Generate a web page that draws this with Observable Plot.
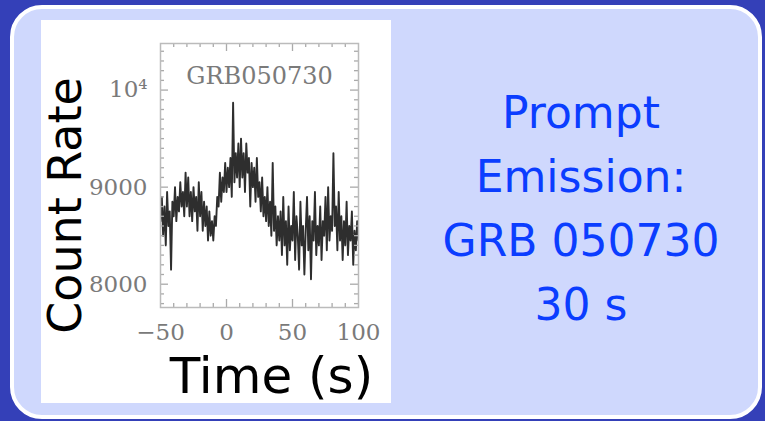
<!DOCTYPE html>
<html><head><meta charset="utf-8">
<script src="https://cdn.jsdelivr.net/npm/d3@7"></script>
<script src="https://cdn.jsdelivr.net/npm/@observablehq/plot@0.6"></script>
<style>
html,body{margin:0;padding:0;}
body{width:765px;height:421px;overflow:hidden;background:#3440b8;position:relative;}
#box{position:absolute;left:10px;top:5px;width:752px;height:414px;box-sizing:border-box;border:4px solid #fff;border-radius:32px;background:#cfd8fd;}
#panel{position:absolute;left:41px;top:20px;width:350px;height:383px;background:#fff;}
#panel svg{overflow:visible;}
#blurb{position:absolute;left:400px;top:81px;width:362px;text-align:center;font-family:"DejaVu Sans";font-size:44px;line-height:64px;color:#0b3dff;}
</style></head>
<body>
<div id="box"></div>
<div id="panel"></div>
<div id="blurb"><div>Prompt</div><div>Emission:</div><div>GRB 050730</div><div>30 s</div></div>
<script>
// ---- data ----
const binStart = -50;          // first bin time (s)
const binWidth = 1;            // bin width (s)
const countRate = [
  8650, 8900, 8500, 8800, 8400, 8950, 8600, 8750, 8150, 8850,
  8700, 9000, 8650, 8900, 8750, 9050, 8800, 8950, 8700, 9150,
  8800, 9100, 8700, 8950, 8650, 9000, 8750, 8900, 8550, 9050,
  8700, 8950, 8550, 8850, 8600, 8800, 8450, 8750, 8500, 8650,
  8450, 8700, 8600, 8900, 8800, 9150, 8850, 9100, 8950, 9250,
  8950, 9200, 9000, 9300, 8900, 9870, 9050, 9350, 9100, 9450,
  9000, 9500, 9100, 9350, 8950, 9450, 9150, 9300, 8800, 9250,
  9000, 9200, 8850, 9300, 8900, 9050, 8750, 9100, 8700, 8900,
  8650, 9000, 8600, 8850, 8500, 9250, 8550, 8800, 8400, 8700,
  8450, 8750, 8300, 8900, 8400, 8650, 8200, 8800, 8350, 8600,
  8450, 8950, 8250, 8700, 8500, 8150, 8850, 8400, 8600, 8100,
  8550, 8900, 8350, 8700, 8050, 8650, 8450, 8950, 8300, 8600,
  8400, 8800, 8250, 8650, 8500, 8900, 8350, 9000, 8450, 8700,
  8550, 9350, 8600, 8800, 8350, 8950, 8450, 8700, 8250, 8650,
  8400, 8850, 8300, 8600, 8450, 8750, 8200, 8550, 8350, 8650, 8450
];
const xMajor = [-50, 0, 50, 100];
const xMinor = [-40, -30, -20, -10, 10, 20, 30, 40, 60, 70, 80, 90];
const yMajor = [8000, 9000, 10000];
const yMinor = [7800, 7900, 8100, 8200, 8300, 8400, 8500, 8600, 8700, 8800, 8900,
  9100, 9200, 9300, 9400, 9500, 9600, 9700, 9800, 9900, 10100, 10200, 10300, 10400];
const xDomain = [-50, 100];
const yDomain = [7760, 10480];
const title = "GRB050730";
const xLabel = "Time (s)";
const yLabel = "Count Rate";

const series = countRate.map((v, i) => ({t: binStart + i * binWidth, v}));

const xLen = (px) => px / 1.32;      // px -> x units
const yLen = (px) => px / 0.0971;    // px -> y units

const edgeTicks = (arr, major) => {
  const ly = yLen(major ? 8 : 4);
  return [
    Plot.ruleX(arr, {x: d => d, y1: yDomain[0], y2: yDomain[0] + ly, stroke: "#aaa", strokeWidth: 1.3}),
    Plot.ruleX(arr, {x: d => d, y1: yDomain[1], y2: yDomain[1] - ly, stroke: "#aaa", strokeWidth: 1.3})
  ];
};
const edgeTicksY = (arr, major) => {
  const lx = xLen(major ? 8 : 4);
  return [
    Plot.ruleY(arr, {y: d => d, x1: xDomain[0], x2: xDomain[0] + lx, stroke: "#aaa", strokeWidth: 1.3}),
    Plot.ruleY(arr, {y: d => d, x1: xDomain[1], x2: xDomain[1] - lx, stroke: "#aaa", strokeWidth: 1.3})
  ];
};

const chart = Plot.plot({
  width: 350,
  height: 383,
  marginLeft: 119,
  marginRight: 33,
  marginTop: 23,
  marginBottom: 96,
  style: {background: "white", fontFamily: "DejaVu Serif", fontSize: "23px", color: "#7a7a7a", overflow: "visible"},
  x: {domain: xDomain},
  y: {domain: yDomain},
  marks: [
    Plot.line(series, {x: "t", y: "v", stroke: "#111", strokeWidth: 1.9, strokeOpacity: 0.88, clip: true}),
    ...edgeTicks(xMinor, false),
    ...edgeTicks([0, 50], true),
    ...edgeTicksY(yMinor, false),
    ...edgeTicksY(yMajor, true),
    Plot.frame({stroke: "#bbb", strokeWidth: 1.5}),
    Plot.axisX({ticks: xMajor, tickSize: 0, tickPadding: 16, label: null, fill: "#7a7a7a"}),
    Plot.axisY({ticks: yMajor, tickSize: 0, tickPadding: 13, label: null, fill: "#7a7a7a",
      tickFormat: d => d === 10000 ? "10⁴" : String(d)}),
    Plot.text([title], {frameAnchor: "top", dy: 40, lineAnchor: "bottom", fill: "#7a7a7a",
      fontSize: 24, fontFamily: "DejaVu Serif"}),
    Plot.text([yLabel], {frameAnchor: "left", textAnchor: "middle", rotate: -90, dx: -94, dy: 30, fill: "black",
      fontSize: 46, fontFamily: "DejaVu Sans"}),
    Plot.text([xLabel], {frameAnchor: "bottom", lineAnchor: "bottom", dx: 12, dy: 85, fill: "black",
      fontSize: 50, fontFamily: "DejaVu Sans"})
  ]
});
document.getElementById("panel").appendChild(chart);
</script>
</body></html>
